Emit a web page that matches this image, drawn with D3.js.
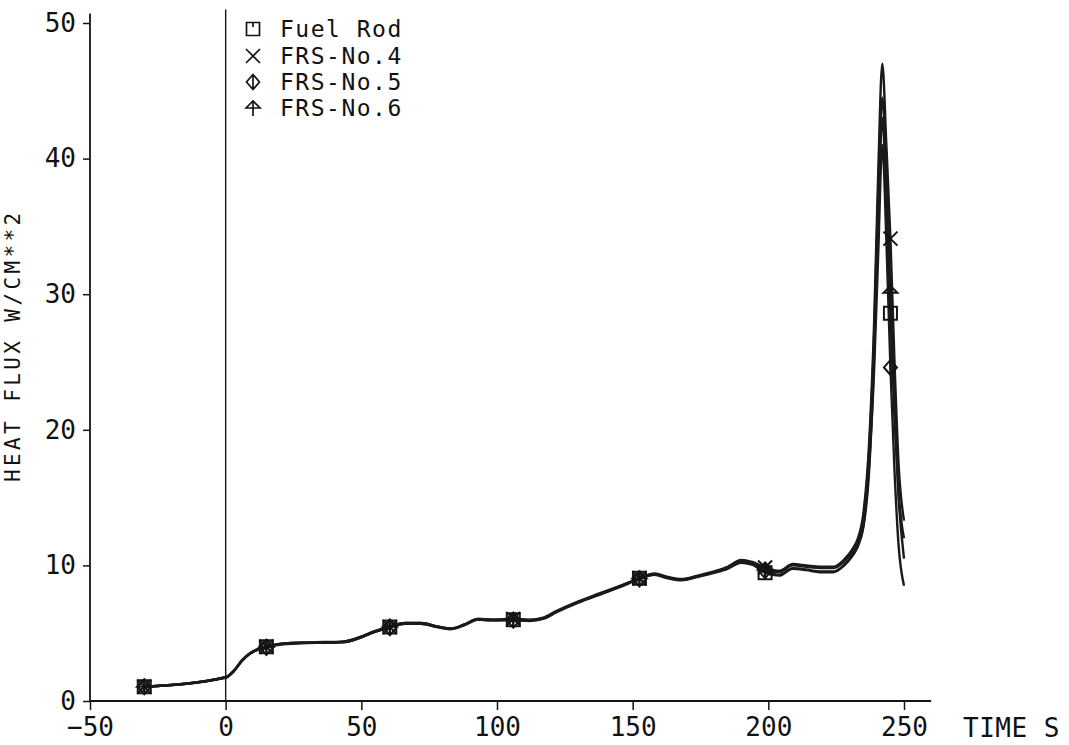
<!DOCTYPE html>
<html>
<head>
<meta charset="utf-8">
<script src="https://cdn.jsdelivr.net/npm/d3@7"></script>
<style>
  html, body { margin: 0; padding: 0; background: #fff; }
  svg { display: block; }
  text { font-family: "DejaVu Sans Mono", "Liberation Mono", monospace; fill: #111; }
</style>
</head>
<body>
<svg id="chart" width="1069" height="745"></svg>
<script>
// ---------------- data ----------------
const seriesNames = ["Fuel Rod", "FRS-No.4", "FRS-No.5", "FRS-No.6"];
const seriesSymbols = ["square", "cross", "diamond", "arrow"];

const time = [-30, 0, 3, 6, 9, 12, 15, 20, 28, 36, 44, 50, 55, 60.5, 66, 72, 78, 83, 88, 93, 98, 106,
  112, 117, 122, 130, 138, 146, 152.5, 158, 163, 168, 174, 180, 185, 190, 194, 198.8, 204, 209, 214,
  219, 224, 228, 231, 233, 235, 237, 239, 240.5, 242, 243.5, 245, 246.5, 248, 250];

const fuelRod = [1.05, 1.75, 2.2, 2.95, 3.5, 3.8, 4.0, 4.2, 4.3, 4.3, 4.35, 4.7, 5.1, 5.45, 5.7, 5.7,
  5.45, 5.3, 5.6, 6.0, 5.95, 6.0, 5.95, 6.1, 6.6, 7.3, 7.9, 8.5, 9.05, 9.35, 9.1, 8.95, 9.2, 9.5, 9.8,
  10.25, 10.1, 9.45, 9.25, 9.75, 9.65, 9.5, 9.5, 10.0, 10.7, 11.4, 12.8, 16.5, 25.5, 35.5, 43.0, 37.0,
  28.6, 21.0, 15.0, 10.5];

const frs4 = [1.05, 1.7, 2.2, 3.0, 3.55, 3.85, 4.0, 4.2, 4.3, 4.3, 4.4, 4.75, 5.15, 5.45, 5.75, 5.75,
  5.5, 5.35, 5.65, 6.05, 6.0, 6.05, 6.0, 6.15, 6.65, 7.35, 7.95, 8.55, 9.05, 9.4, 9.15, 9.0, 9.25, 9.55,
  9.9, 10.4, 10.25, 9.85, 9.6, 10.1, 10.0, 9.9, 9.9, 10.45, 11.2, 12.0, 13.8, 18.5, 28.0, 39.0, 47.0,
  41.0, 34.1, 25.0, 17.5, 13.3];

const frs5 = [1.05, 1.75, 2.25, 3.0, 3.5, 3.8, 3.95, 4.15, 4.25, 4.3, 4.35, 4.7, 5.1, 5.4, 5.7, 5.7,
  5.45, 5.3, 5.6, 6.0, 5.95, 5.95, 5.9, 6.05, 6.55, 7.25, 7.85, 8.45, 9.0, 9.3, 9.05, 8.9, 9.15, 9.45,
  9.75, 10.2, 10.05, 9.6, 9.3, 9.8, 9.7, 9.55, 9.55, 10.05, 10.75, 11.5, 12.9, 17.0, 24.5, 33.0, 41.0,
  34.0, 24.6, 17.0, 11.5, 8.5];

const frs6 = [1.05, 1.75, 2.2, 2.95, 3.5, 3.8, 4.0, 4.2, 4.3, 4.35, 4.4, 4.75, 5.15, 5.5, 5.75, 5.75,
  5.5, 5.35, 5.65, 6.05, 6.0, 6.0, 5.95, 6.1, 6.6, 7.3, 7.9, 8.5, 9.05, 9.35, 9.1, 8.95, 9.2, 9.5, 9.85,
  10.35, 10.2, 9.7, 9.5, 10.0, 9.9, 9.8, 9.8, 10.3, 11.0, 11.8, 13.4, 18.0, 27.0, 37.5, 44.5, 39.0,
  30.1, 22.0, 15.5, 12.0];

const markerTimes = [-30, 15, 60.5, 106, 152.5, 198.8, 245];

const xTicks = [-50, 0, 50, 100, 150, 200, 250];
const yTicks = [0, 10, 20, 30, 40, 50];
const xTitle = "TIME S";
const yTitle = "HEAT FLUX W/CM**2";

// ---------------- drawing ----------------
const allValues = [fuelRod, frs4, frs5, frs6];
const series = seriesNames.map((name, i) => ({
  name, symbol: seriesSymbols[i],
  points: time.map((t, j) => ({ t, v: allValues[i][j] }))
}));

const svg = d3.select("#chart");
const x = d3.scaleLinear().domain([-50, 250]).range([90, 904]);
const y = d3.scaleLinear().domain([0, 50]).range([701, 23]);

const ink = "#141414";

// y axis
const yAxis = svg.append("g")
  .attr("transform", `translate(${x(-50)},0)`)
  .call(d3.axisLeft(y).tickValues(yTicks).tickSize(7).tickSizeOuter(0).tickPadding(7));
yAxis.select(".domain").remove();
yAxis.selectAll("line").attr("stroke", ink).attr("stroke-width", 1.5);
yAxis.selectAll("text").attr("font-size", 26).attr("font-family", "DejaVu Sans Mono").attr("fill", ink);

// x axis
const xAxis = svg.append("g")
  .attr("transform", `translate(0,${y(0)})`)
  .call(d3.axisBottom(x).tickValues(xTicks).tickSize(9).tickSizeOuter(0).tickPadding(8));
xAxis.select(".domain").remove();
xAxis.selectAll("line").attr("stroke", ink).attr("stroke-width", 1.5);
xAxis.selectAll("text").attr("font-size", 26).attr("font-family", "DejaVu Sans Mono").attr("fill", ink);

// axis lines
svg.append("line")
  .attr("x1", x(-50)).attr("x2", x(-50))
  .attr("y1", y(0)).attr("y2", y(50.7))
  .attr("stroke", ink).attr("stroke-width", 1.8);
svg.append("line")
  .attr("x1", x(-50)).attr("x2", x(260))
  .attr("y1", y(0)).attr("y2", y(0))
  .attr("stroke", ink).attr("stroke-width", 1.8);
// vertical line at t = 0
svg.append("line")
  .attr("x1", x(0)).attr("x2", x(0))
  .attr("y1", y(0)).attr("y2", y(51))
  .attr("stroke", ink).attr("stroke-width", 1.4);

// titles
svg.append("text")
  .attr("x", 963).attr("y", y(0) + 36)
  .attr("font-size", 26).attr("letter-spacing", 0.5)
  .attr("fill", ink)
  .text(xTitle);
svg.append("text")
  .attr("transform", `translate(20,${y(26.2)}) rotate(-90)`)
  .attr("text-anchor", "middle")
  .attr("font-size", 21).attr("letter-spacing", 3.4)
  .attr("fill", ink)
  .text(yTitle);

// lines
const line = d3.line()
  .x(d => x(d.t)).y(d => y(d.v))
  .curve(d3.curveMonotoneX);

svg.append("g").selectAll("path")
  .data(series)
  .join("path")
  .attr("d", d => line(d.points))
  .attr("fill", "none")
  .attr("stroke", "#1a1a1a")
  .attr("stroke-width", 2.4)
  .attr("stroke-linejoin", "round");

// symbols
const symbolPath = {
  square: "M-6.5,-6.5H6.5V6.5H-6.5Z M0,-6.5V-2",
  cross: "M-7,-7L7,7 M-7,7L7,-7",
  diamond: "M0,-7.5L6.5,0L0,7.5L-6.5,0Z M0,-7.5V7.5",
  arrow: "M-7,0L0,-7L7,0Z M0,-7V8"
};

const markerData = [];
series.forEach(s => {
  s.points.forEach(p => {
    if (markerTimes.includes(p.t)) markerData.push({ symbol: s.symbol, t: p.t, v: p.v });
  });
});

svg.append("g").selectAll("path")
  .data(markerData)
  .join("path")
  .attr("transform", d => `translate(${x(d.t)},${y(d.v)})`)
  .attr("d", d => symbolPath[d.symbol])
  .attr("fill", "none")
  .attr("stroke", ink)
  .attr("stroke-width", 2);

// legend
const legend = svg.append("g");
const legendRows = [29, 56, 82, 108];
series.forEach((s, i) => {
  const row = legend.append("g").attr("transform", `translate(253,${legendRows[i]})`);
  row.append("path")
    .attr("d", symbolPath[s.symbol])
    .attr("fill", "none").attr("stroke", ink).attr("stroke-width", 1.7);
  row.append("text")
    .attr("x", 27).attr("y", 0).attr("dy", "0.36em")
    .attr("font-size", 23).attr("letter-spacing", 1.5)
    .attr("fill", ink)
    .text(s.name);
});
</script>
</body>
</html>
